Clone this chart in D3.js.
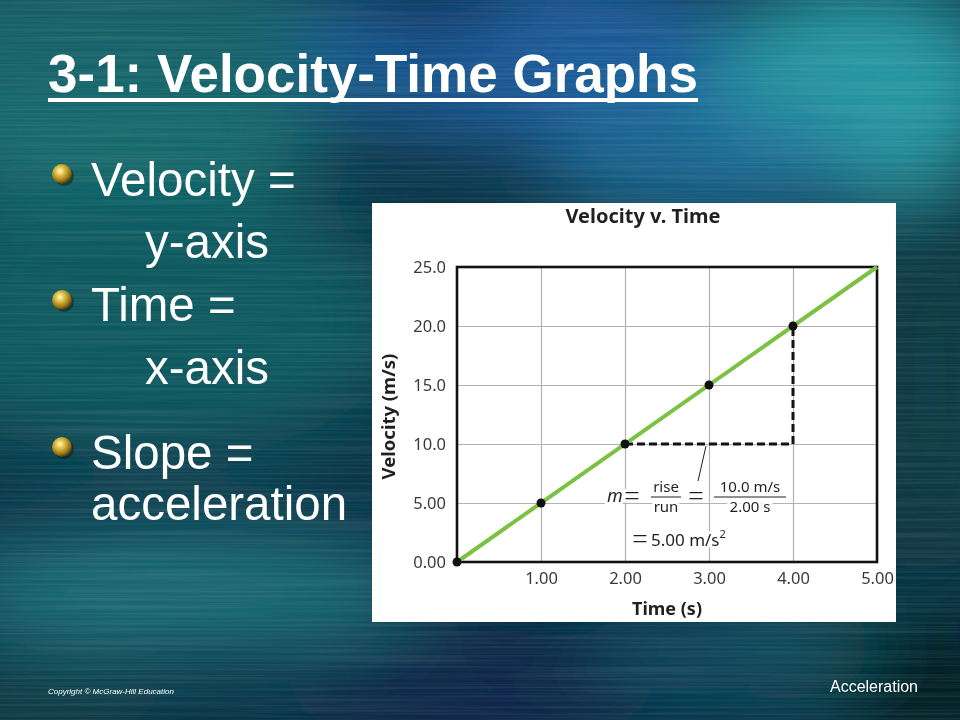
<!DOCTYPE html>
<html>
<head>
<meta charset="utf-8">
<script src="https://cdn.jsdelivr.net/npm/d3@7"></script>
<style>
  html, body { margin: 0; padding: 0; background: #0b3448; }
  svg { display: block; }
</style>
</head>
<body>
<div id="slide"></div>
<script>
// chart data
const yTicks = [0, 5, 10, 15, 20, 25];
const xTicks = [1, 2, 3, 4, 5];
const pointTimes = [0, 1, 2, 3, 4];
const pointVelocities = [0, 5, 10, 15, 20];
const lineTimes = [0, 5];
const lineVelocities = [0, 25];
const riseRunTimes = [2, 4, 4];
const riseRunVelocities = [10, 10, 20];

// slide text
const bullets = [
  { text: "Velocity =", sub: "y-axis" },
  { text: "Time =", sub: "x-axis" },
  { text: "Slope =", sub: "acceleration" }
];

const width = 960, height = 720;

const svg = d3.select("#slide").append("svg")
    .attr("width", width)
    .attr("height", height);

const defs = svg.append("defs");

// --- background ---
const blur = defs.append("filter").attr("id", "soft")
    .attr("x", "-50%").attr("y", "-50%").attr("width", "200%").attr("height", "200%");
blur.append("feGaussianBlur").attr("stdDeviation", 40);

const streak = defs.append("filter").attr("id", "streak")
    .attr("x", 0).attr("y", 0).attr("width", "100%").attr("height", "100%");
streak.append("feTurbulence")
    .attr("type", "fractalNoise")
    .attr("baseFrequency", "0.004 0.45")
    .attr("numOctaves", 2)
    .attr("seed", 3);
streak.append("feColorMatrix")
    .attr("values", "0 0 0 0 1  0 0 0 0 1  0 0 0 0 1  0 0 0 0.35 -0.12");

svg.append("rect")
    .attr("width", width).attr("height", height)
    .attr("fill", "#0b3446");

const glows = [
  { cx: 120, cy: 60, rx: 260, ry: 120, c: "#17656b" },
  { cx: 120, cy: 150, rx: 200, ry: 60, c: "#1a6e70" },
  { cx: 520, cy: 50, rx: 220, ry: 90, c: "#1d5fa3" },
  { cx: 430, cy: 0, rx: 90, ry: 40, c: "#0b2c55" },
  { cx: 860, cy: 90, rx: 150, ry: 110, c: "#2aa2ab" },
  { cx: 700, cy: 160, rx: 160, ry: 60, c: "#1f6f9a" },
  { cx: 150, cy: 320, rx: 260, ry: 140, c: "#0f5c62" },
  { cx: 930, cy: 380, rx: 80, ry: 200, c: "#0a3c42" },
  { cx: 180, cy: 590, rx: 240, ry: 60, c: "#1c7580" },
  { cx: 470, cy: 690, rx: 180, ry: 60, c: "#08244a" },
  { cx: 700, cy: 650, rx: 120, ry: 40, c: "#12506a" },
  { cx: 830, cy: 650, rx: 80, ry: 30, c: "#17606a" },
  { cx: 940, cy: 690, rx: 110, ry: 60, c: "#03191b" },
  { cx: 40, cy: 700, rx: 120, ry: 40, c: "#0c3f47" }
];

svg.append("g").attr("filter", "url(#soft)")
  .selectAll("ellipse")
  .data(glows)
  .join("ellipse")
    .attr("cx", d => d.cx).attr("cy", d => d.cy)
    .attr("rx", d => d.rx).attr("ry", d => d.ry)
    .attr("fill", d => d.c)
    .attr("opacity", 0.9);

svg.append("rect")
    .attr("width", width).attr("height", height)
    .attr("filter", "url(#streak)")
    .attr("opacity", 0.5);

// --- title ---
const title = svg.append("text")
    .attr("x", 48).attr("y", 92)
    .attr("fill", "#fff")
    .style("font-family", "'Liberation Sans', Arial, sans-serif")
    .style("font-weight", "bold")
    .style("font-size", "53px")
    .text("3-1: Velocity-Time Graphs");

const tw = title.node().getComputedTextLength();
svg.append("rect")
    .attr("x", 48).attr("y", 98)
    .attr("width", tw).attr("height", 4)
    .attr("fill", "#fff");

// --- bullets ---
const bullet = defs.append("radialGradient").attr("id", "gold")
    .attr("cx", "40%").attr("cy", "35%").attr("r", "65%");
bullet.append("stop").attr("offset", "0%").attr("stop-color", "#fffbd0");
bullet.append("stop").attr("offset", "30%").attr("stop-color", "#e6c850");
bullet.append("stop").attr("offset", "75%").attr("stop-color", "#9c7a18");
bullet.append("stop").attr("offset", "100%").attr("stop-color", "#4d3c08");

const bulletRows = [
  { y: 196, ys: 258, by: 174, subX: 145 },
  { y: 321, ys: 384, by: 300, subX: 145 },
  { y: 469, ys: 520, by: 447, subX: 91 }
];

const bulletG = svg.append("g")
    .style("font-family", "'Liberation Sans', Arial, sans-serif")
    .style("font-size", "47.5px")
    .attr("fill", "#fff");

bullets.forEach((b, i) => {
  const r = bulletRows[i];
  bulletG.append("circle")
      .attr("cx", 64).attr("cy", r.by + 2).attr("r", 10)
      .attr("fill", "#000").attr("opacity", 0.35);
  bulletG.append("circle")
      .attr("cx", 62).attr("cy", r.by).attr("r", 10)
      .attr("fill", "url(#gold)");
  bulletG.append("text").attr("x", 91).attr("y", r.y).text(b.text);
  bulletG.append("text").attr("x", r.subX).attr("y", r.ys).text(b.sub);
});

// --- chart panel ---
svg.append("rect")
    .attr("x", 372).attr("y", 203)
    .attr("width", 524).attr("height", 419)
    .attr("fill", "#fff");

const x = d3.scaleLinear().domain([0, 5]).range([457, 877]);
const y = d3.scaleLinear().domain([0, 25]).range([562, 267]);
const fmt = d3.format(".3r");

const chart = svg.append("g")
    .style("font-family", "'Noto Sans', 'Open Sans', sans-serif");

chart.append("text")
    .attr("x", 643).attr("y", 223)
    .attr("text-anchor", "middle")
    .attr("fill", "#231f20")
    .style("font-weight", "bold")
    .style("font-size", "20px")
    .text("Velocity v. Time");

// grid
chart.append("g")
    .attr("transform", `translate(0,${y(0)})`)
    .call(d3.axisBottom(x).tickValues(xTicks).tickSize(-(y(0) - y(25))).tickFormat(""))
    .call(g => g.select(".domain").remove())
    .call(g => g.selectAll("line").attr("stroke", "#b3b3b3").attr("stroke-width", 1.2));

chart.append("g")
    .attr("transform", `translate(${x(0)},0)`)
    .call(d3.axisLeft(y).tickValues(yTicks).tickSize(-(x(5) - x(0))).tickFormat(""))
    .call(g => g.select(".domain").remove())
    .call(g => g.selectAll("line").attr("stroke", "#b3b3b3").attr("stroke-width", 1.2));

// tick labels
chart.append("g")
    .attr("transform", `translate(${x(0) - 8},0)`)
    .call(d3.axisLeft(y).tickValues(yTicks).tickSize(0).tickFormat(fmt))
    .call(g => g.select(".domain").remove())
    .call(g => g.selectAll("text")
        .attr("fill", "#3a3a3a")
        .style("font-size", "16.5px")
        .style("font-family", "'Noto Sans', sans-serif"));

chart.append("g")
    .attr("transform", `translate(0,${y(0) + 7})`)
    .call(d3.axisBottom(x).tickValues(xTicks).tickSize(0).tickFormat(fmt))
    .call(g => g.select(".domain").remove())
    .call(g => g.selectAll("text")
        .attr("fill", "#3a3a3a")
        .style("font-size", "16.5px")
        .style("font-family", "'Noto Sans', sans-serif"));

// axis titles
chart.append("text")
    .attr("x", 667).attr("y", 615)
    .attr("text-anchor", "middle")
    .attr("fill", "#231f20")
    .style("font-weight", "bold")
    .style("font-size", "18px")
    .text("Time (s)");

chart.append("text")
    .attr("transform", `translate(395,${(y(0) + y(25)) / 2 + 2}) rotate(-90)`)
    .attr("text-anchor", "middle")
    .attr("fill", "#231f20")
    .style("font-weight", "bold")
    .style("font-size", "18.5px")
    .text("Velocity (m/s)");

// slope annotation (drawn before frame/line, with white halo over grid)
const eq = chart.append("g")
    .attr("fill", "#231f20")
    .style("font-size", "15px")
    .attr("stroke", "#fff")
    .attr("stroke-width", 6)
    .attr("stroke-linejoin", "round")
    .style("paint-order", "stroke");

eq.append("text").attr("x", 607).attr("y", 502)
    .style("font-style", "italic").style("font-size", "18px").text("m");
eq.append("text").attr("x", 624).attr("y", 506)
    .style("font-size", "28px").style("font-weight", "300").text("=");
eq.append("text").attr("x", 666).attr("y", 492).attr("text-anchor", "middle").text("rise");
eq.append("text").attr("x", 666).attr("y", 512).attr("text-anchor", "middle").text("run");
eq.append("text").attr("x", 688).attr("y", 506)
    .style("font-size", "28px").style("font-weight", "300").text("=");
eq.append("text").attr("x", 750).attr("y", 492).attr("text-anchor", "middle").text("10.0 m/s");
eq.append("text").attr("x", 750).attr("y", 512).attr("text-anchor", "middle").text("2.00 s");

const line2 = eq.append("text").attr("x", 632).attr("y", 546);
line2.append("tspan").style("font-size", "28px").style("font-weight", "300").attr("dy", 3).text("=");
line2.append("tspan").attr("dx", 3).attr("dy", -3).style("font-size", "17px").text("5.00 m/s");
line2.append("tspan").attr("dy", -8).style("font-size", "11px").text("2");

chart.append("line")
    .attr("x1", 651).attr("x2", 681).attr("y1", 497).attr("y2", 497)
    .attr("stroke", "#231f20").attr("stroke-width", 1);
chart.append("line")
    .attr("x1", 714).attr("x2", 786).attr("y1", 497).attr("y2", 497)
    .attr("stroke", "#231f20").attr("stroke-width", 1);

// leader line
chart.append("line")
    .attr("x1", 706).attr("y1", 446).attr("x2", 698).attr("y2", 481)
    .attr("stroke", "#231f20").attr("stroke-width", 1);

// frame
chart.append("rect")
    .attr("x", x(0)).attr("y", y(25))
    .attr("width", x(5) - x(0)).attr("height", y(0) - y(25))
    .attr("fill", "none")
    .attr("stroke", "#111")
    .attr("stroke-width", 2.6);

// rise/run dashes
chart.append("path")
    .datum(riseRunTimes.map((t, i) => [t, riseRunVelocities[i]]))
    .attr("d", d3.line().x(d => x(d[0])).y(d => y(d[1])))
    .attr("fill", "none")
    .attr("stroke", "#111")
    .attr("stroke-width", 3)
    .attr("stroke-dasharray", "8,4");

// velocity line
chart.append("path")
    .datum(lineTimes.map((t, i) => [t, lineVelocities[i]]))
    .attr("d", d3.line().x(d => x(d[0])).y(d => y(d[1])))
    .attr("stroke", "#7cc242")
    .attr("stroke-width", 4)
    .attr("fill", "none");

// points
chart.selectAll("circle.pt")
  .data(pointTimes.map((t, i) => [t, pointVelocities[i]]))
  .join("circle")
    .attr("class", "pt")
    .attr("cx", d => x(d[0]))
    .attr("cy", d => y(d[1]))
    .attr("r", 4.5)
    .attr("fill", "#111");

// --- footer ---
svg.append("text")
    .attr("x", 48).attr("y", 694)
    .attr("fill", "#fff")
    .style("font-family", "'Liberation Sans Narrow', 'Liberation Sans', sans-serif")
    .style("font-style", "italic")
    .style("font-size", "8px")
    .text("Copyright © McGraw-Hill Education");

svg.append("text")
    .attr("x", 918).attr("y", 692)
    .attr("text-anchor", "end")
    .attr("fill", "#fff")
    .style("font-family", "'Liberation Sans Narrow', 'Liberation Sans', sans-serif")
    .style("font-size", "16px")
    .text("Acceleration");
</script>
</body>
</html>
